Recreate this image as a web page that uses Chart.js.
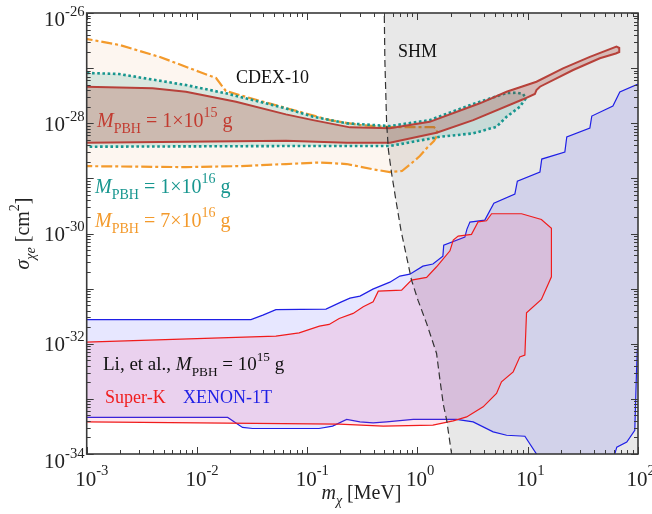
<!DOCTYPE html>
<html>
<head>
<meta charset="utf-8">
<script src="https://cdn.jsdelivr.net/npm/chart.js@4.4.1/dist/chart.umd.min.js"></script>
<style>
  html, body { margin: 0; padding: 0; background: #ffffff; }
  canvas { display: block; }
</style>
</head>
<body>
<canvas id="c" width="652" height="514"></canvas>
<script>
// Axis ranges (powers of ten) and labelled decades
const xRangeExp = [-3, 2];
const yRangeExp = [-34, -26];
const xTickExps = [-3, -2, -1, 0, 1, 2];
const yTickExps = [-34, -32, -30, -28, -26];

// Boundaries as [m_chi (MeV), sigma_chi_e (cm^2)] pairs, each traced as a closed outline

// Standard halo model boundary (dashed line); the shaded side lies at larger mass
const shmBoundary = [
  [0.499, 1.40e-26], [0.506, 1.40e-27], [0.525, 1.01e-28], [0.545, 3.26e-29],
  [0.582, 1.25e-29], [0.637, 4.04e-30], [0.708, 1.15e-30], [0.797, 3.78e-31],
  [0.883, 1.43e-31], [1.01, 6.18e-32], [1.21, 2.34e-32], [1.49, 6.67e-33],
  [1.60, 2.18e-33], [1.72, 7.69e-34], [1.84, 4.10e-34], [2.04, 9.91e-35], [2.07, 7.1e-35]
];

// XENON-1T region (Li et al., M_PBH = 1e15 g)
const xenon1T = [
  [9e-4, 2.74e-32], [3.09e-2, 2.74e-32], [3.96e-2, 3.30e-32], [5.20e-2, 4.16e-32],
  [0.148, 4.25e-32], [0.202, 5.69e-32], [0.244, 6.73e-32], [0.301, 7.31e-32],
  [0.394, 9.79e-32], [0.562, 1.31e-31], [0.692, 1.69e-31], [0.853, 1.83e-31],
  [1.12, 2.56e-31], [1.38, 2.79e-31], [1.70, 3.89e-31], [1.73, 6.16e-31],
  [2.69, 8.61e-31], [2.81, 1.20e-30], [2.99, 1.61e-30], [4.08, 1.75e-30],
  [4.93, 3.56e-30], [7.64, 5.19e-30], [8.05, 8.93e-30], [12.9, 1.30e-29],
  [13.4, 2.24e-29], [21.7, 3.00e-29], [22.6, 5.62e-29], [36.6, 8.18e-29],
  [38.1, 1.35e-28], [59.2, 2.05e-28], [68.4, 3.68e-28], [100, 5.14e-28],
  [120, 6.1e-28], [120, 9.4e-33], [102, 9.4e-33], [98.6, 7.65e-33],
  [96.9, 3.05e-33], [93.5, 2.70e-34], [79.1, 1.64e-34], [64.2, 1.33e-34],
  [61.6, 1.0e-34], [60.5, 7e-35], [12.3, 7e-35], [12.0, 1.0e-34],
  [9.42, 2.10e-34], [6.43, 2.19e-34], [4.86, 2.52e-34], [3.20, 3.83e-34],
  [2.26, 4.23e-34], [0.914, 4.23e-34], [0.525, 3.83e-34], [0.396, 3.67e-34],
  [0.301, 3.83e-34], [0.228, 4.23e-34], [0.170, 3.20e-34], [0.128, 2.90e-34],
  [3.20e-2, 2.90e-34], [2.59e-2, 3.03e-34], [1.90e-2, 4.60e-34], [9e-4, 4.60e-34],
  [9e-4, 2.74e-32]
];

// Super-K region (Li et al., M_PBH = 1e15 g)
const superK = [
  [9e-4, 1.06e-32], [5.20e-2, 1.37e-32], [8.45e-2, 1.58e-32], [0.129, 2.09e-32],
  [0.158, 2.24e-32], [0.195, 2.88e-32], [0.261, 3.55e-32], [0.322, 4.68e-32],
  [0.396, 5.76e-32], [0.441, 9.01e-32], [0.718, 9.39e-32], [0.883, 1.43e-31],
  [1.21, 1.60e-31], [1.49, 2.49e-31], [1.97, 4.85e-31], [2.11, 7.59e-31],
  [2.34, 8.97e-31], [3.09, 9.63e-31], [3.55, 1.63e-30], [4.23, 1.70e-30],
  [4.70, 2.28e-30], [8.79, 2.28e-30], [13.3, 1.80e-30], [16.4, 1.24e-30],
  [16.4, 1.64e-31], [13.3, 6.37e-32], [9.75, 3.64e-32], [9.42, 6.21e-33],
  [8.48, 5.78e-33], [7.38, 3.09e-33], [5.78, 2.04e-33], [5.21, 1.25e-33],
  [3.94, 7.16e-34], [2.79, 4.71e-34], [2.11, 3.99e-34], [1.38, 3.33e-34],
  [0.489, 3.20e-34], [0.195, 3.48e-34], [9e-4, 3.83e-34], [9e-4, 1.06e-32]
];

// CDEX-10 region, M_PBH = 7e16 g
const pbh7e16 = [
  [9e-4, 3.52e-27], [2.0e-3, 2.62e-27], [4.62e-3, 1.59e-27], [1.06e-2, 8.5e-28],
  [1.49e-2, 6.61e-28], [1.69e-2, 4.73e-28], [1.83e-2, 3.84e-28], [3.02e-2, 2.87e-28],
  [6.41e-2, 1.89e-28], [0.161, 1.14e-28], [0.301, 9.28e-29], [0.562, 8.53e-29],
  [1.41, 8.53e-29], [1.50, 7.53e-29], [1.50, 5.86e-29], [1.41, 4.75e-29],
  [1.24, 3.70e-29], [1.05, 2.54e-29], [0.889, 1.90e-29], [0.723, 1.36e-29],
  [0.562, 1.30e-29], [0.396, 1.46e-29], [0.228, 1.82e-29], [0.130, 1.94e-29],
  [6.41e-2, 1.82e-29], [2.45e-2, 1.67e-29], [7.94e-3, 1.60e-29], [9e-4, 1.67e-29],
  [9e-4, 3.52e-27]
];

// CDEX-10 region, M_PBH = 1e16 g
const pbh1e16 = [
  [9e-4, 8.25e-28], [1.96e-3, 7.82e-28], [7.94e-3, 4.93e-28], [1.83e-2, 3.49e-28],
  [6.41e-2, 1.86e-28], [0.113, 1.31e-28], [0.228, 9.96e-29], [0.562, 8.9e-29],
  [1.29, 1.14e-28], [3.18, 2.23e-28], [6.43, 3.53e-28], [7.91, 3.58e-28],
  [9.08, 3.39e-28], [9.62, 2.83e-28], [8.48, 1.99e-28], [6.43, 1.31e-28],
  [5.21, 8.64e-29], [3.20, 6.55e-29], [1.60, 5.69e-29], [0.562, 3.86e-29],
  [6.41e-2, 3.86e-29], [9e-4, 3.75e-29], [9e-4, 8.25e-28]
];

// CDEX-10 region, M_PBH = 1e15 g
const pbh1e15 = [
  [9e-4, 4.60e-28], [3.96e-3, 4.30e-28], [7.94e-3, 3.73e-28], [2.26e-2, 2.46e-28],
  [6.41e-2, 1.45e-28], [0.113, 1.14e-28], [0.244, 8.42e-29], [0.562, 8.08e-29],
  [1.29, 1.06e-28], [3.68, 2.30e-28], [6.43, 3.73e-28], [12.0, 5.66e-28],
  [20.9, 9.92e-28], [36.6, 1.60e-27], [63.8, 2.45e-27], [67.6, 2.32e-27],
  [67.6, 1.96e-27], [62.9, 1.84e-27], [45.1, 1.51e-27], [25.8, 9.24e-28],
  [12.9, 4.60e-28], [12.0, 4.0e-28], [11.6, 3.39e-28], [9.08, 2.72e-28],
  [3.20, 1.14e-28], [1.49, 6.72e-29], [0.562, 4.43e-29], [0.228, 4.43e-29],
  [6.41e-2, 4.81e-29], [9e-4, 4.43e-29], [9e-4, 4.60e-28]
];

const toXY = pts => pts.map(([x, y]) => ({ x, y }));
const shmShade = shmBoundary.concat([[200, 7.1e-35], [200, 1.4e-26]]);

const SERIF = '"Liberation Serif", "Times New Roman", serif';

// Draws text made of normal / italic / subscript / superscript runs.
function rich(ctx, parts, x, y, size, color, align) {
  const small = size * 0.7;
  const fontOf = m => (m.includes('i') ? 'italic ' : '') +
    ((m.includes('b') || m.includes('p')) ? small : size) + 'px ' + SERIF;
  let w = 0;
  for (const [t, m] of parts) { ctx.font = fontOf(m); w += ctx.measureText(t).width; }
  let cx = x - w * (align || 0);
  ctx.fillStyle = color;
  ctx.textAlign = 'left';
  ctx.textBaseline = 'alphabetic';
  for (const [t, m] of parts) {
    ctx.font = fontOf(m);
    const dy = m.includes('b') ? size * 0.32 : (m.includes('p') ? -size * 0.48 : 0);
    ctx.fillText(t, cx, y + dy);
    cx += ctx.measureText(t).width;
  }
  return w;
}

const framePlugin = {
  id: 'framePlugin',
  afterDatasetsDraw(chart) {
    const { ctx, chartArea: a } = chart;
    const sx = chart.scales.x, sy = chart.scales.y;
    ctx.save();

    // region labels
    rich(ctx, [['CDEX-10', '']], 236, 83, 18, '#111111');
    rich(ctx, [['SHM', '']], 398, 56.5, 18, '#111111');
    rich(ctx, [['M', 'i'], ['PBH', 'b'], [' = 1\u00d710', ''], ['15', 'p'], [' g', '']], 97, 127, 20, '#c23b30');
    rich(ctx, [['M', 'i'], ['PBH', 'b'], [' = 1\u00d710', ''], ['16', 'p'], [' g', '']], 95, 193, 20, '#17968f');
    rich(ctx, [['M', 'i'], ['PBH', 'b'], [' = 7\u00d710', ''], ['16', 'p'], [' g', '']], 95, 227, 20, '#f39a2c');
    rich(ctx, [['Li, et al., ', ''], ['M', 'i'], ['PBH', 'b'], [' = 10', ''], ['15', 'p'], [' g', '']], 103, 370, 19, '#111111');
    rich(ctx, [['Super-K', '']], 105, 403, 18, '#f01c1c');
    rich(ctx, [['XENON-1T', '']], 183, 403, 18, '#1f1fe6');

    // inward ticks on all four sides
    ctx.strokeStyle = '#3a3a3a';
    ctx.lineWidth = 1;
    ctx.beginPath();
    for (let e = xRangeExp[0]; e <= xRangeExp[1]; e++) {
      for (let k = 1; k <= 9; k++) {
        if (e === xRangeExp[1] && k > 1) break;
        const p = Math.round(sx.getPixelForValue(k * Math.pow(10, e))) + 0.5;
        const L = k === 1 ? 7 : 4;
        ctx.moveTo(p, a.bottom); ctx.lineTo(p, a.bottom - L);
        ctx.moveTo(p, a.top); ctx.lineTo(p, a.top + L);
      }
    }
    for (let e = yRangeExp[0]; e <= yRangeExp[1]; e++) {
      for (let k = 1; k <= 9; k++) {
        if (e === yRangeExp[1] && k > 1) break;
        const p = Math.round(sy.getPixelForValue(k * Math.pow(10, e))) + 0.5;
        const L = k === 1 ? 7 : 4;
        ctx.moveTo(a.left, p); ctx.lineTo(a.left + L, p);
        ctx.moveTo(a.right, p); ctx.lineTo(a.right - L, p);
      }
    }
    ctx.stroke();

    // plot frame
    ctx.strokeStyle = '#3a3a3a';
    ctx.lineWidth = 1.6;
    ctx.strokeRect(a.left, a.top, a.right - a.left, a.bottom - a.top);

    // tick labels
    const TS = 21;
    ctx.font = TS + 'px ' + SERIF;
    const w10 = ctx.measureText('10').width;
    for (const e of xTickExps) {
      const p = sx.getPixelForValue(Math.pow(10, e));
      rich(ctx, [['10', ''], [String(e), 'p']], p - 1 - w10 / 2, 485.5, TS, '#222222');
    }
    for (const e of yTickExps) {
      const p = sy.getPixelForValue(Math.pow(10, e));
      const off = e === yRangeExp[1] ? 13 : (e === yRangeExp[0] ? 14 : 7.5);
      rich(ctx, [['10', ''], [String(e), 'p']], 44, p + off, TS, '#222222');
    }

    // axis titles
    rich(ctx, [['m', 'i'], ['\u03c7', 'ib'], [' [MeV]', '']], 361.5, 499, 20, '#222222', 0.5);
    ctx.save();
    ctx.translate(28.5, 233.5);
    ctx.rotate(-Math.PI / 2);
    rich(ctx, [['\u03c3', 'i'], ['\u03c7e', 'ib'], [' [cm', ''], ['2', 'p'], [']', '']], 0, 0, 20, '#222222', 0.5);
    ctx.restore();

    ctx.restore();
  }
};

new Chart(document.getElementById('c'), {
  type: 'line',
  data: {
    datasets: [
      { label: 'SHM boundary', data: toXY(shmBoundary), order: 0, fill: false,
        borderColor: '#333333', borderWidth: 1.2, borderDash: [7, 4] },
      { label: 'M_PBH = 1e15 g', data: toXY(pbh1e15), order: 1, fill: 'shape',
        backgroundColor: 'rgba(160,40,30,0.24)', borderColor: '#b7413a', borderWidth: 2 },
      { label: 'M_PBH = 1e16 g', data: toXY(pbh1e16), order: 2, fill: 'shape',
        backgroundColor: 'rgba(20,150,130,0.15)', borderColor: '#17968f', borderWidth: 2.6,
        borderDash: [2.6, 2.6] },
      { label: 'M_PBH = 7e16 g', data: toXY(pbh7e16), order: 3, fill: 'shape',
        backgroundColor: 'rgba(230,130,40,0.07)', borderColor: '#f39a2c', borderWidth: 2.2,
        borderDash: [11, 3, 3, 3] },
      { label: 'Super-K', data: toXY(superK), order: 5, fill: 'shape',
        backgroundColor: 'rgba(255,60,120,0.13)', borderColor: '#f01c1c', borderWidth: 1.2 },
      { label: 'XENON-1T', data: toXY(xenon1T), order: 6, fill: 'shape',
        backgroundColor: 'rgba(40,40,255,0.11)', borderColor: '#1f1fe6', borderWidth: 1.2 },
      { label: 'SHM region', data: toXY(shmShade), order: 7, fill: 'shape',
        backgroundColor: '#e8e8e8', borderWidth: 0, borderColor: 'rgba(0,0,0,0)' }
    ]
  },
  options: {
    responsive: false,
    animation: false,
    devicePixelRatio: 1,
    layout: { padding: { left: 86.7, right: 14, top: 13, bottom: 60 } },
    datasets: { line: { clip: 0, pointRadius: 0, tension: 0 } },
    elements: { point: { radius: 0 }, line: { tension: 0 } },
    plugins: { legend: { display: false }, tooltip: { enabled: false } },
    scales: {
      x: { type: 'logarithmic', min: Math.pow(10, xRangeExp[0]), max: Math.pow(10, xRangeExp[1]), display: false },
      y: { type: 'logarithmic', min: Math.pow(10, yRangeExp[0]), max: Math.pow(10, yRangeExp[1]), display: false }
    }
  },
  plugins: [framePlugin]
});
</script>
</body>
</html>
